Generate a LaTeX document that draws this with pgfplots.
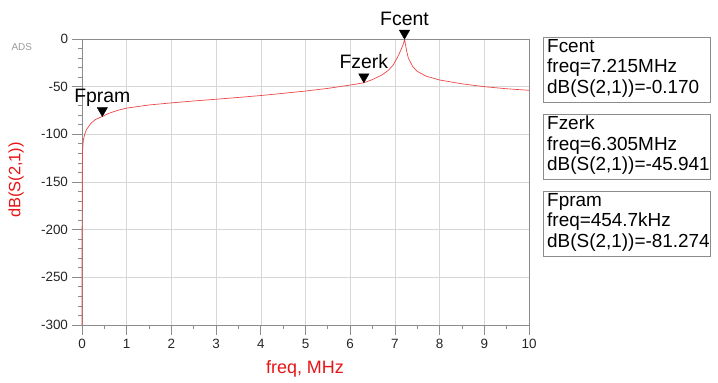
\documentclass[border=0pt]{standalone}
\usepackage{pgfplots}
\pgfplotsset{compat=1.18}
\usepackage{fontspec}
\setmainfont{Liberation Sans}
\definecolor{curve}{RGB}{235,70,70}
\definecolor{lab}{RGB}{230,20,20}
\definecolor{frame}{RGB}{140,140,140}
\definecolor{gridc}{RGB}{215,215,215}
\begin{document}
\begin{tikzpicture}
\path[use as bounding box] (-82bp,-58bp) rectangle (636bp,325bp);
\begin{axis}[
  at={(0,0)}, anchor=south west,
  scale only axis, width=447bp, height=286bp,
  xmin=0, xmax=10, ymin=-300, ymax=0,
  xtick={0,1,...,10}, ytick={-300,-250,...,0},
  minor x tick num=1, minor y tick num=4,
  grid=major, major grid style={gridc, line width=0.6pt},
  axis line style={frame, line width=0.8pt},
  tick style={frame, line width=0.8pt},
  tick align=outside,
  major tick length=10bp, minor tick length=4bp,
  xtick pos=bottom, ytick pos=left,
  tick label style={font=\fontsize{13.5}{15}\selectfont, text=black!85},
  yticklabel style={xshift=-0.5bp},
  xticklabel style={yshift=-1bp},
  /pgf/number format/assume math mode=true,
  clip=false,
]
\addplot[curve, line width=0.7pt] coordinates {
 (0,-300) (0.002,-200) (0.006,-140) (0.012,-118) (0.03,-106) (0.06,-100)
 (0.1,-95) (0.2,-88.5) (0.3,-84.5) (0.4547,-81.27) (0.6,-78) (0.8,-74.8)
 (1,-72.5) (1.5,-69.2) (2,-67) (2.5,-65) (3,-63.2) (3.5,-61.3) (4,-59.3)
 (4.5,-57) (5,-54.6) (5.5,-51.8) (6,-48.3) (6.305,-45.94) (6.5,-42.5)
 (6.7,-38) (6.85,-33) (6.95,-28) (7.05,-20) (7.12,-13) (7.17,-7.5)
 (7.2,-3.5) (7.215,-0.17) (7.23,-4) (7.26,-12) (7.3,-20) (7.4,-29)
 (7.5,-34) (7.7,-39) (8,-43) (8.5,-47) (9,-50) (9.5,-52.2) (10,-53.8)
};
\addplot[only marks, mark=triangle*, mark size=6bp, black,
  mark options={yshift=6bp, rotate=180, fill=black}] coordinates {
 (0.4547,-81.27) (6.305,-45.94) (7.215,-0.17)
};
\node[anchor=base, font=\fontsize{19.5}{21}\selectfont, yshift=14bp] at (axis cs:0.4547,-81.27) {Fpram};
\node[anchor=base, font=\fontsize{19.5}{21}\selectfont, yshift=14bp] at (axis cs:6.305,-45.94) {Fzerk};
\node[anchor=base, font=\fontsize{19.5}{21}\selectfont, yshift=14bp] at (axis cs:7.215,-0.17) {Fcent};
\end{axis}
\node[anchor=west, text=black!40, font=\fontsize{10}{12}\selectfont] at (-74bp,278bp) {ADS};
\node[rotate=90, text=lab, font=\fontsize{16.5}{18}\selectfont] at (-66bp,145bp) {dB(S(2,1))};
\node[text=lab, font=\fontsize{18}{20}\selectfont] at (223bp,-44bp) {freq, MHz};
\draw[frame, line width=0.8pt] (461bp,288bp) rectangle ++(167bp,-65bp);
\node[anchor=north west, align=left, inner sep=0pt, font=\fontsize{19}{20.5}\selectfont]
  at (465bp,286bp) {Fcent\\freq=7.215MHz\\dB(S(2,1))=-0.170};
\draw[frame, line width=0.8pt] (461bp,211bp) rectangle ++(167bp,-65bp);
\node[anchor=north west, align=left, inner sep=0pt, font=\fontsize{19}{20.5}\selectfont]
  at (465bp,209bp) {Fzerk\\freq=6.305MHz\\dB(S(2,1))=-45.941};
\draw[frame, line width=0.8pt] (461bp,134bp) rectangle ++(167bp,-65bp);
\node[anchor=north west, align=left, inner sep=0pt, font=\fontsize{19}{20.5}\selectfont]
  at (465bp,132bp) {Fpram\\freq=454.7kHz\\dB(S(2,1))=-81.274};
\end{tikzpicture}
\end{document}
